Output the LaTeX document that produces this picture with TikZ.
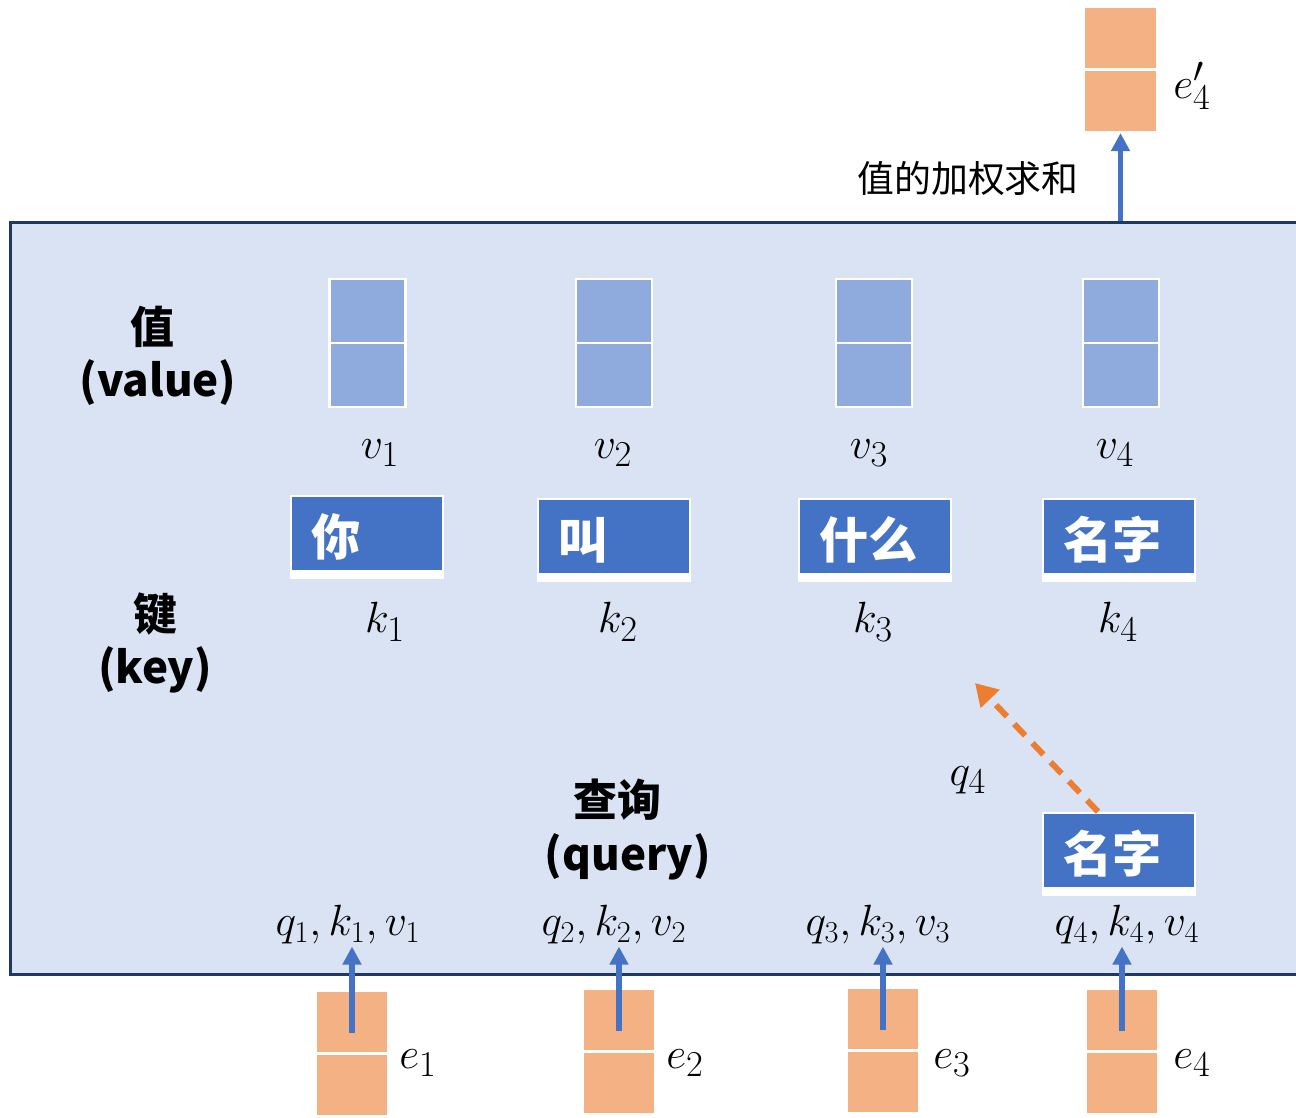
\documentclass[tikz,border=0pt]{standalone}
\usepackage{fontspec}
\newfontfamily\cjk{Noto Sans CJK SC}
\usetikzlibrary{positioning,arrows.meta}

\definecolor{fondo}{HTML}{DAE3F3}
\definecolor{borde}{HTML}{1F3864}
\definecolor{azul}{HTML}{4472C4}
\definecolor{azulclaro}{HTML}{8FAADC}
\definecolor{naranja}{HTML}{ED7D31}
\definecolor{melocoton}{HTML}{F4B183}

\begin{document}
\begin{tikzpicture}[x=0.02cm, y=-0.02cm,
    marco/.style={draw=borde, line width=1.7pt, fill=fondo, minimum width=25.8cm, minimum height=15.06cm, inner sep=0},
    celdav/.style={draw=white, line width=1.2pt, fill=azulclaro, minimum width=1.52cm, minimum height=1.28cm, inner sep=0},
    celdae/.style={draw=white, line width=1.2pt, fill=melocoton, minimum width=1.46cm, minimum height=1.24cm, inner sep=0},
    palabra/.style={fill=white, text=white, minimum width=3.08cm, minimum height=1.68cm,
        inner xsep=0.42cm, text width=2.24cm, align=left, font=\cjk\bfseries\fontsize{28}{30}\selectfont,
        path picture={\fill[azul] ([xshift=1.2pt,yshift=-1.2pt]path picture bounding box.north west)
            rectangle ([xshift=-1.2pt,yshift=5pt]path picture bounding box.south east);}},
    etiqueta/.style={font=\fontsize{30}{32}\selectfont},
    trio/.style={font=\fontsize{25}{28}\selectfont, inner sep=1pt},
    titulo/.style={font=\cjk\bfseries\fontsize{25}{30}\selectfont},
    flecha/.style={-{Triangle[width=0.36cm, length=0.36cm]}, azul, line width=3.2pt},
    flechaq/.style={-{Triangle[width=0.5cm, length=0.44cm]}, naranja, line width=3.4pt, dash pattern=on 9pt off 6pt},
]
    \useasboundingbox (0,0) rectangle (1296,1117);

    % Marco de la atencion
    \node[marco] (marco) at (655,598.5) {};

    % Valores
    \foreach \i/\x in {1/367.5,2/614,3/874,4/1121}{
        \node[celdav] (v\i a) at (\x,311) {};
        \node[celdav] (v\i b) at (\x,375) {};
    }
    \foreach \i/\x in {1/380,2/613,3/869,4/1115}
        \node[etiqueta] (lv\i) at (\x,453) {$v_\i$};

    % Claves
    \node[palabra] (k1) at (367,537) {你};
    \node[palabra] (k2) at (614,540) {叫};
    \node[palabra] (k3) at (875,540) {什么};
    \node[palabra] (k4) at (1119,540) {名字};
    \foreach \i/\x in {1/385,2/618,3/873,4/1118}
        \node[etiqueta] (lk\i) at (\x,622) {$k_\i$};

    % Rotulos de la izquierda
    \node[titulo] (tv) at (152,327) {值};
    \node[titulo] (tva) at (158,383) {(value)};
    \node[titulo] (tk) at (155,614) {键};
    \node[titulo] (tka) at (155,670) {(key)};
    \node[titulo] (tq) at (617,800) {查询};
    \node[titulo] (tqa) at (628,857) {(query)};

    % Consulta q4
    \node[palabra] (q4box) at (1119,854) {名字};
    \coordinate (destino) at (975,683);
    \draw[flechaq] ([xshift=-0.42cm]q4box.north) -- (destino);
    \node[etiqueta] (lq4) at (968,780) {$q_4$};

    % Entradas e_i
    \foreach \i/\x/\y in {1/352/1022,2/619/1020,3/883/1019,4/1122/1020}{
        \node[celdae] (e\i a) at (\x,\y) {};
        \node[celdae] (e\i b) at (\x,\y+63) {};
    }
    \foreach \i/\x in {1/418,2/685,3/952,4/1192}
        \node[etiqueta] (le\i) at (\x,1063) {$e_\i$};

    % q,k,v de cada entrada
    \foreach \i/\x in {1/348,2/614,3/878,4/1127}
        \node[trio] (qkv\i) at (\x,925) {$q_\i,k_\i,v_\i$};
    \foreach \i in {1,...,4}
        \draw[flecha] ([yshift=-0.22cm]e\i a.center) -- (e\i a.center |- qkv\i.south);

    % Salida e4'
    \node[celdae] (e4pa) at (1120.5,38) {};
    \node[celdae] (e4pb) at (1120.5,101) {};
    \node[etiqueta] (le4p) at (1192,86) {$e_4'$};
    \draw[flecha] (marco.north -| e4pb.south) -- (e4pb.south);
    \node[font=\cjk\fontsize{21}{24}\selectfont] (suma) at (968,178) {值的加权求和};
\end{tikzpicture}
\end{document}
